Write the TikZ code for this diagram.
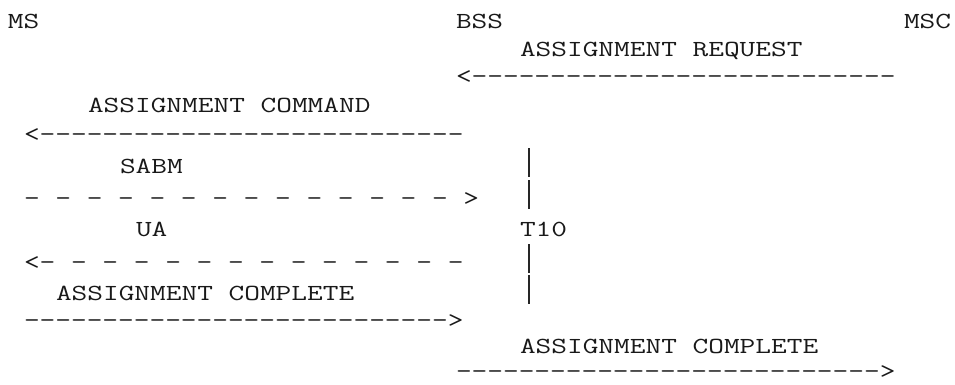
\documentclass[tikz,border=0pt]{standalone}
\usepackage{fontspec}
% #1 name, #2 column, #3 baseline (pixels from the top), #4 text
\newcommand\asciiline[4]{\node[ascii] (#1) at ({8+#2*16},{385-#3}) {#4};}
\newcommand\asciibar[2]{\node[asciibar] (#1) at (529,{385-#2}) {\rule[-2.6pt]{1.3pt}{28.4pt}};}
\begin{document}
\begin{tikzpicture}[x=1pt,y=1pt,
  ascii/.style={anchor=base west, inner sep=0pt, outer sep=0pt, xscale=1.325,
    font=\fontsize{23}{24}\selectfont\ttfamily, text=black!90},
  asciibar/.style={anchor=base, inner sep=0pt, outer sep=0pt, text=black!85}]
\useasboundingbox[fill=white] (0,0) rectangle (955,385);
\asciiline{ms}{0}{28.3}{MS}
\asciiline{bss}{28}{28.3}{BSS}
\asciiline{msc}{56}{28.3}{MSC}
\asciiline{req}{32}{56.7}{ASSIGNMENT REQUEST}
\asciiline{reqarrow}{28}{84}{<---------------------------}
\asciiline{cmd}{5}{112.7}{ASSIGNMENT COMMAND}
\asciiline{cmdarrow}{1}{142}{<---------------------------}
\asciiline{sabm}{7}{174}{SABM}
\asciibar{bara}{174}
\asciiline{sabmarrow}{1}{206}{- - - - - - - - - - - - - - >}
\asciibar{barb}{206}
\asciiline{ua}{8}{237}{UA}
\asciiline{tten}{32}{237}{T10}
\asciiline{uaarrow}{1}{270}{<- - - - - - - - - - - - - -}
\asciibar{barc}{270}
\asciiline{cpla}{3}{301}{ASSIGNMENT COMPLETE}
\asciibar{bard}{301}
\asciiline{cplaarrow}{1}{328}{--------------------------->}
\asciiline{cplb}{32}{354}{ASSIGNMENT COMPLETE}
\asciiline{cplbarrow}{28}{379}{--------------------------->}
\end{tikzpicture}
\end{document}
